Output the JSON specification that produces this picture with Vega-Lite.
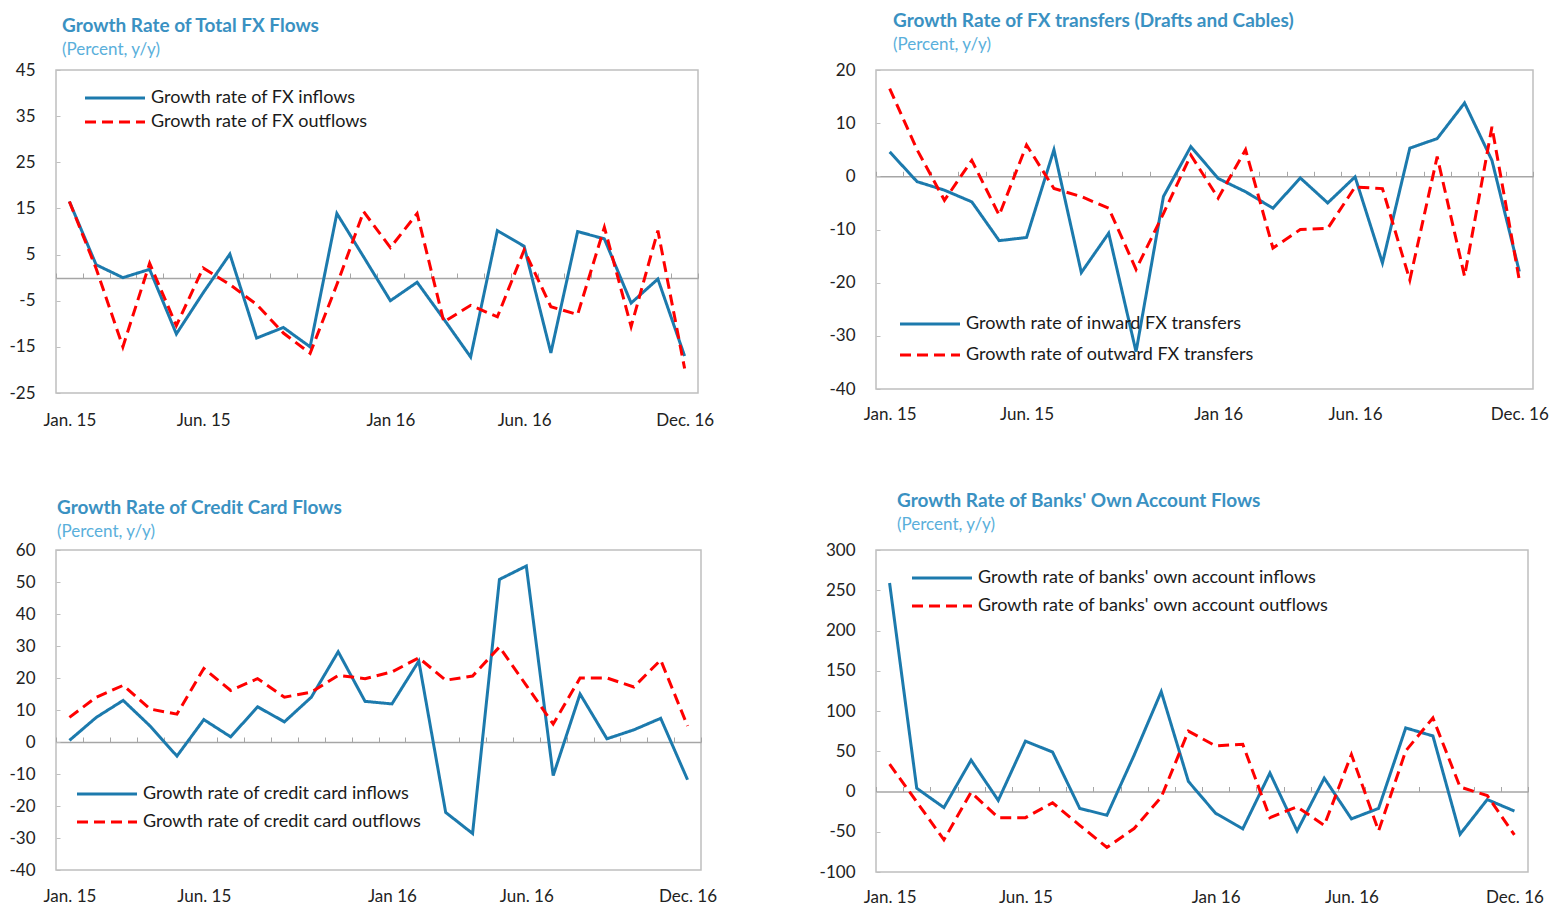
{
  "$schema": "https://vega.github.io/schema/vega-lite/v6.json",
  "padding": {"left": 8, "top": 11, "right": 5, "bottom": 5},
  "background": "white",
  "config": {
    "font": "Lato",
    "view": {"stroke": "#BFBFBF", "strokeWidth": 1.5},
    "axis": {"labelFont": "Lato", "labelFontSize": 17, "labelColor": "#222222", "grid": false},
    "axisY": {"labelExpr": "'' + datum.value"},
    "legend": {"labelFont": "Lato", "labelFontSize": 18, "labelColor": "#1a1a1a", "labelLimit": 500, "padding": 0, "symbolStrokeWidth": 3, "symbolType": "M0,0H12", "symbolSize": 100, "labelOffset": 57},
    "title": {"font": "Lato", "fontSize": 19, "fontWeight": "bold", "color": "#3a91c2", "subtitleFont": "Lato", "subtitleFontSize": 17, "subtitleColor": "#5aafdb", "subtitleFontWeight": "normal", "anchor": "start", "frame": "group", "subtitlePadding": 6}
  },
  "datasets": {
    "fx": [
      {"month": "Jan. 15", "inflow": 16.5, "outflow": 16.5},
      {"month": "Feb. 15", "inflow": 2.8, "outflow": 2},
      {"month": "Mar. 15", "inflow": 0, "outflow": -15},
      {"month": "Apr. 15", "inflow": 1.8, "outflow": 3.1},
      {"month": "May. 15", "inflow": -12.2, "outflow": -10.4},
      {"month": "Jun. 15", "inflow": -3.3, "outflow": 2.1},
      {"month": "Jul. 15", "inflow": 5.1, "outflow": -1.5},
      {"month": "Aug. 15", "inflow": -13.1, "outflow": -5.8},
      {"month": "Sep. 15", "inflow": -10.8, "outflow": -12},
      {"month": "Oct. 15", "inflow": -15, "outflow": -16.4},
      {"month": "Nov. 15", "inflow": 13.9, "outflow": -1.5},
      {"month": "Dec. 15", "inflow": 4.5, "outflow": 14.3},
      {"month": "Jan 16", "inflow": -5, "outflow": 6.5},
      {"month": "Feb. 16", "inflow": -1, "outflow": 13.9},
      {"month": "Mar. 16", "inflow": -9, "outflow": -9.6},
      {"month": "Apr. 16", "inflow": -17.2, "outflow": -6},
      {"month": "May. 16", "inflow": 10.2, "outflow": -8.5},
      {"month": "Jun. 16", "inflow": 6.8, "outflow": 6},
      {"month": "Jul. 16", "inflow": -16.3, "outflow": -6.3},
      {"month": "Aug. 16", "inflow": 10, "outflow": -8},
      {"month": "Sep. 16", "inflow": 8.4, "outflow": 10.9},
      {"month": "Oct. 16", "inflow": -5.5, "outflow": -10.6},
      {"month": "Nov. 16", "inflow": -0.3, "outflow": 10.2},
      {"month": "Dec. 16", "inflow": -17, "outflow": -19.7}
    ],
    "transfers": [
      {"month": "Jan. 15", "inflow": 4.6, "outflow": 16.5},
      {"month": "Feb. 15", "inflow": -1, "outflow": 5},
      {"month": "Mar. 15", "inflow": -2.6, "outflow": -4.5},
      {"month": "Apr. 15", "inflow": -4.8, "outflow": 3},
      {"month": "May. 15", "inflow": -12.1, "outflow": -7.3},
      {"month": "Jun. 15", "inflow": -11.5, "outflow": 5.9},
      {"month": "Jul. 15", "inflow": 5, "outflow": -2.3},
      {"month": "Aug. 15", "inflow": -18.1, "outflow": -3.8},
      {"month": "Sep. 15", "inflow": -10.7, "outflow": -6},
      {"month": "Oct. 15", "inflow": -33, "outflow": -17.5},
      {"month": "Nov. 15", "inflow": -3.8, "outflow": -7},
      {"month": "Dec. 15", "inflow": 5.6, "outflow": 4},
      {"month": "Jan 16", "inflow": -0.4, "outflow": -4.1},
      {"month": "Feb. 16", "inflow": -2.9, "outflow": 5},
      {"month": "Mar. 16", "inflow": -6, "outflow": -13.5},
      {"month": "Apr. 16", "inflow": -0.3, "outflow": -10},
      {"month": "May. 16", "inflow": -5, "outflow": -9.8},
      {"month": "Jun. 16", "inflow": -0.1, "outflow": -2},
      {"month": "Jul. 16", "inflow": -16.3, "outflow": -2.3},
      {"month": "Aug. 16", "inflow": 5.3, "outflow": -19.5},
      {"month": "Sep. 16", "inflow": 7.1, "outflow": 3.7},
      {"month": "Oct. 16", "inflow": 13.8, "outflow": -18.8},
      {"month": "Nov. 16", "inflow": 3, "outflow": 9.3},
      {"month": "Dec. 16", "inflow": -17.9, "outflow": -19.5}
    ],
    "cards": [
      {"month": "Jan. 15", "inflow": 0.5, "outflow": 7.7},
      {"month": "Feb. 15", "inflow": 7.7, "outflow": 14},
      {"month": "Mar. 15", "inflow": 13, "outflow": 17.7},
      {"month": "Apr. 15", "inflow": 5, "outflow": 10.3},
      {"month": "May. 15", "inflow": -4.4, "outflow": 8.7},
      {"month": "Jun. 15", "inflow": 7, "outflow": 23},
      {"month": "Jul. 15", "inflow": 1.6, "outflow": 16.1},
      {"month": "Aug. 15", "inflow": 11, "outflow": 19.8},
      {"month": "Sep. 15", "inflow": 6.3, "outflow": 14},
      {"month": "Oct. 15", "inflow": 14, "outflow": 15.6},
      {"month": "Nov. 15", "inflow": 28.2, "outflow": 20.8},
      {"month": "Dec. 15", "inflow": 12.7, "outflow": 19.8},
      {"month": "Jan 16", "inflow": 11.9, "outflow": 21.9},
      {"month": "Feb. 16", "inflow": 25.3, "outflow": 26.3},
      {"month": "Mar. 16", "inflow": -22, "outflow": 19.3},
      {"month": "Apr. 16", "inflow": -28.6, "outflow": 20.6},
      {"month": "May. 16", "inflow": 50.8, "outflow": 29.7},
      {"month": "Jun. 16", "inflow": 55, "outflow": 17.7},
      {"month": "Jul. 16", "inflow": -10.5, "outflow": 5.6},
      {"month": "Aug. 16", "inflow": 15, "outflow": 20},
      {"month": "Sep. 16", "inflow": 1, "outflow": 20},
      {"month": "Oct. 16", "inflow": 3.8, "outflow": 17.2},
      {"month": "Nov. 16", "inflow": 7.4, "outflow": 25.6},
      {"month": "Dec. 16", "inflow": -11.8, "outflow": 5}
    ],
    "banks": [
      {"month": "Jan. 15", "inflow": 259, "outflow": 34},
      {"month": "Feb. 15", "inflow": 4, "outflow": -13},
      {"month": "Mar. 15", "inflow": -20, "outflow": -60},
      {"month": "Apr. 15", "inflow": 39, "outflow": -1},
      {"month": "May. 15", "inflow": -11, "outflow": -32.5},
      {"month": "Jun. 15", "inflow": 62.6, "outflow": -32.5},
      {"month": "Jul. 15", "inflow": 49, "outflow": -14},
      {"month": "Aug. 15", "inflow": -21, "outflow": -42},
      {"month": "Sep. 15", "inflow": -29.5, "outflow": -69.5},
      {"month": "Oct. 15", "inflow": 45, "outflow": -46},
      {"month": "Nov. 15", "inflow": 124, "outflow": -7},
      {"month": "Dec. 15", "inflow": 12.5, "outflow": 75},
      {"month": "Jan 16", "inflow": -27, "outflow": 56.6},
      {"month": "Feb. 16", "inflow": -46.4, "outflow": 58.7},
      {"month": "Mar. 16", "inflow": 23, "outflow": -32.5},
      {"month": "Apr. 16", "inflow": -49, "outflow": -19},
      {"month": "May. 16", "inflow": 16.6, "outflow": -42},
      {"month": "Jun. 16", "inflow": -34, "outflow": 46},
      {"month": "Jul. 16", "inflow": -21, "outflow": -49},
      {"month": "Aug. 16", "inflow": 79, "outflow": 50.5},
      {"month": "Sep. 16", "inflow": 69, "outflow": 91.4},
      {"month": "Oct. 16", "inflow": -53, "outflow": 5.5},
      {"month": "Nov. 16", "inflow": -10, "outflow": -5},
      {"month": "Dec. 16", "inflow": -24.3, "outflow": -54}
    ]
  },
  "columns": 2,
  "bounds": "flush",
  "spacing": {"row": 157, "column": 175},
  "resolve": {
    "scale": {"x": "independent", "y": "independent", "color": "independent", "strokeDash": "independent"},
    "legend": {"color": "independent", "strokeDash": "independent"}
  },
  "concat": [
    {
      "width": 642, "height": 323,
      "title": {"text": "Growth Rate of Total FX Flows", "subtitle": "(Percent, y/y)", "dx": 6, "offset": 3},
      "data": {"name": "fx"},
      "transform": [{"fold": ["inflow", "outflow"], "as": ["series", "value"]}],
      "mark": {"type": "line", "strokeWidth": 3},
      "encoding": {
        "x": {"field": "month", "type": "ordinal", "sort": null, "title": null,
          "scale": {"type": "band", "paddingInner": 0, "paddingOuter": 0},
          "axis": {"orient": "bottom", "offset": -115, "domain": true, "domainColor": "#A6A6A6", "domainWidth": 1.5, "ticks": true, "tickSize": -5, "tickColor": "#A6A6A6", "tickBand": "extent", "labelPadding": 139, "labelAngle": 0, "labelOverlap": false,
            "labelExpr": "indexof(['Jan. 15','Jun. 15','Jan 16','Jun. 16','Dec. 16'], datum.value) >= 0 ? datum.value : ''"}},
        "y": {"field": "value", "type": "quantitative", "title": null,
          "scale": {"domain": [-25, 45], "nice": false, "zero": false},
          "axis": {"values": [-25, -15, -5, 5, 15, 25, 35, 45], "domain": false, "ticks": true, "tickSize": -4, "tickColor": "#BFBFBF", "labelPadding": 25}},
        "color": {"field": "series", "type": "nominal",
          "scale": {"domain": ["inflow", "outflow"], "range": ["#1c7aad", "#ff0000"]},
          "legend": {"title": null, "orient": "none", "legendX": 20, "legendY": 19, "rowPadding": 6,
            "labelExpr": "datum.value == 'inflow' ? 'Growth rate of FX inflows' : 'Growth rate of FX outflows'"}},
        "strokeDash": {"field": "series", "type": "nominal",
          "scale": {"domain": ["inflow", "outflow"], "range": [[1, 0], [11, 6]]},
          "legend": {"title": null, "orient": "none", "legendX": 20, "legendY": 19, "rowPadding": 6,
            "labelExpr": "datum.value == 'inflow' ? 'Growth rate of FX inflows' : 'Growth rate of FX outflows'"}}
      }
    },
    {
      "width": 657, "height": 319,
      "title": {"text": "Growth Rate of FX transfers (Drafts and Cables)", "subtitle": "(Percent, y/y)", "dx": 17, "offset": 8},
      "data": {"name": "transfers"},
      "transform": [{"fold": ["inflow", "outflow"], "as": ["series", "value"]}],
      "mark": {"type": "line", "strokeWidth": 3},
      "encoding": {
        "x": {"field": "month", "type": "ordinal", "sort": null, "title": null,
          "scale": {"type": "band", "paddingInner": 0, "paddingOuter": 0},
          "axis": {"orient": "bottom", "offset": -212.7, "domain": true, "domainColor": "#A6A6A6", "domainWidth": 1.5, "ticks": true, "tickSize": -5, "tickColor": "#A6A6A6", "tickBand": "extent", "labelPadding": 235, "labelAngle": 0, "labelOverlap": false,
            "labelExpr": "indexof(['Jan. 15','Jun. 15','Jan 16','Jun. 16','Dec. 16'], datum.value) >= 0 ? datum.value : ''"}},
        "y": {"field": "value", "type": "quantitative", "title": null,
          "scale": {"domain": [-40, 20], "nice": false, "zero": false},
          "axis": {"values": [-40, -30, -20, -10, 0, 10, 20], "domain": false, "ticks": true, "tickSize": -4, "tickColor": "#BFBFBF", "labelPadding": 25}},
        "color": {"field": "series", "type": "nominal",
          "scale": {"domain": ["inflow", "outflow"], "range": ["#1c7aad", "#ff0000"]},
          "legend": {"title": null, "orient": "none", "legendX": 15, "legendY": 245, "rowPadding": 13,
            "labelExpr": "datum.value == 'inflow' ? 'Growth rate of inward FX transfers' : 'Growth rate of outward FX transfers'"}},
        "strokeDash": {"field": "series", "type": "nominal",
          "scale": {"domain": ["inflow", "outflow"], "range": [[1, 0], [11, 6]]},
          "legend": {"title": null, "orient": "none", "legendX": 15, "legendY": 245, "rowPadding": 13,
            "labelExpr": "datum.value == 'inflow' ? 'Growth rate of inward FX transfers' : 'Growth rate of outward FX transfers'"}}
      }
    },
    {
      "width": 645, "height": 320,
      "title": {"text": "Growth Rate of Credit Card Flows", "subtitle": "(Percent, y/y)", "dx": 1, "offset": 1},
      "data": {"name": "cards"},
      "transform": [{"fold": ["inflow", "outflow"], "as": ["series", "value"]}],
      "mark": {"type": "line", "strokeWidth": 3},
      "encoding": {
        "x": {"field": "month", "type": "ordinal", "sort": null, "title": null,
          "scale": {"type": "band", "paddingInner": 0, "paddingOuter": 0},
          "axis": {"orient": "bottom", "offset": -128, "domain": true, "domainColor": "#A6A6A6", "domainWidth": 1.5, "ticks": true, "tickSize": -5, "tickColor": "#A6A6A6", "tickBand": "extent", "labelPadding": 151, "labelAngle": 0, "labelOverlap": false,
            "labelExpr": "indexof(['Jan. 15','Jun. 15','Jan 16','Jun. 16','Dec. 16'], datum.value) >= 0 ? datum.value : ''"}},
        "y": {"field": "value", "type": "quantitative", "title": null,
          "scale": {"domain": [-40, 60], "nice": false, "zero": false},
          "axis": {"values": [-40, -30, -20, -10, 0, 10, 20, 30, 40, 50, 60], "domain": false, "ticks": true, "tickSize": -4, "tickColor": "#BFBFBF", "labelPadding": 25}},
        "color": {"field": "series", "type": "nominal",
          "scale": {"domain": ["inflow", "outflow"], "range": ["#1c7aad", "#ff0000"]},
          "legend": {"title": null, "orient": "none", "legendX": 12, "legendY": 235, "rowPadding": 10,
            "labelExpr": "datum.value == 'inflow' ? 'Growth rate of credit card inflows' : 'Growth rate of credit card outflows'"}},
        "strokeDash": {"field": "series", "type": "nominal",
          "scale": {"domain": ["inflow", "outflow"], "range": [[1, 0], [11, 6]]},
          "legend": {"title": null, "orient": "none", "legendX": 12, "legendY": 235, "rowPadding": 10,
            "labelExpr": "datum.value == 'inflow' ? 'Growth rate of credit card inflows' : 'Growth rate of credit card outflows'"}}
      }
    },
    {
      "width": 652, "height": 322,
      "title": {"text": "Growth Rate of Banks' Own Account Flows", "subtitle": "(Percent, y/y)", "dx": 21, "offset": 8},
      "data": {"name": "banks"},
      "transform": [{"fold": ["inflow", "outflow"], "as": ["series", "value"]}],
      "mark": {"type": "line", "strokeWidth": 3},
      "encoding": {
        "x": {"field": "month", "type": "ordinal", "sort": null, "title": null,
          "scale": {"type": "band", "paddingInner": 0, "paddingOuter": 0},
          "axis": {"orient": "bottom", "offset": -80.5, "domain": true, "domainColor": "#A6A6A6", "domainWidth": 1.5, "ticks": true, "tickSize": -5, "tickColor": "#A6A6A6", "tickBand": "extent", "labelPadding": 103, "labelAngle": 0, "labelOverlap": false,
            "labelExpr": "indexof(['Jan. 15','Jun. 15','Jan 16','Jun. 16','Dec. 16'], datum.value) >= 0 ? datum.value : ''"}},
        "y": {"field": "value", "type": "quantitative", "title": null,
          "scale": {"domain": [-100, 300], "nice": false, "zero": false},
          "axis": {"values": [-100, -50, 0, 50, 100, 150, 200, 250, 300], "domain": false, "ticks": true, "tickSize": -4, "tickColor": "#BFBFBF", "labelPadding": 25}},
        "color": {"field": "series", "type": "nominal",
          "scale": {"domain": ["inflow", "outflow"], "range": ["#1c7aad", "#ff0000"]},
          "legend": {"title": null, "orient": "none", "legendX": 27, "legendY": 19, "rowPadding": 10,
            "labelExpr": "datum.value == 'inflow' ? \"Growth rate of banks' own account inflows\" : \"Growth rate of banks' own account outflows\""}},
        "strokeDash": {"field": "series", "type": "nominal",
          "scale": {"domain": ["inflow", "outflow"], "range": [[1, 0], [11, 6]]},
          "legend": {"title": null, "orient": "none", "legendX": 27, "legendY": 19, "rowPadding": 10,
            "labelExpr": "datum.value == 'inflow' ? \"Growth rate of banks' own account inflows\" : \"Growth rate of banks' own account outflows\""}}
      }
    }
  ]
}
